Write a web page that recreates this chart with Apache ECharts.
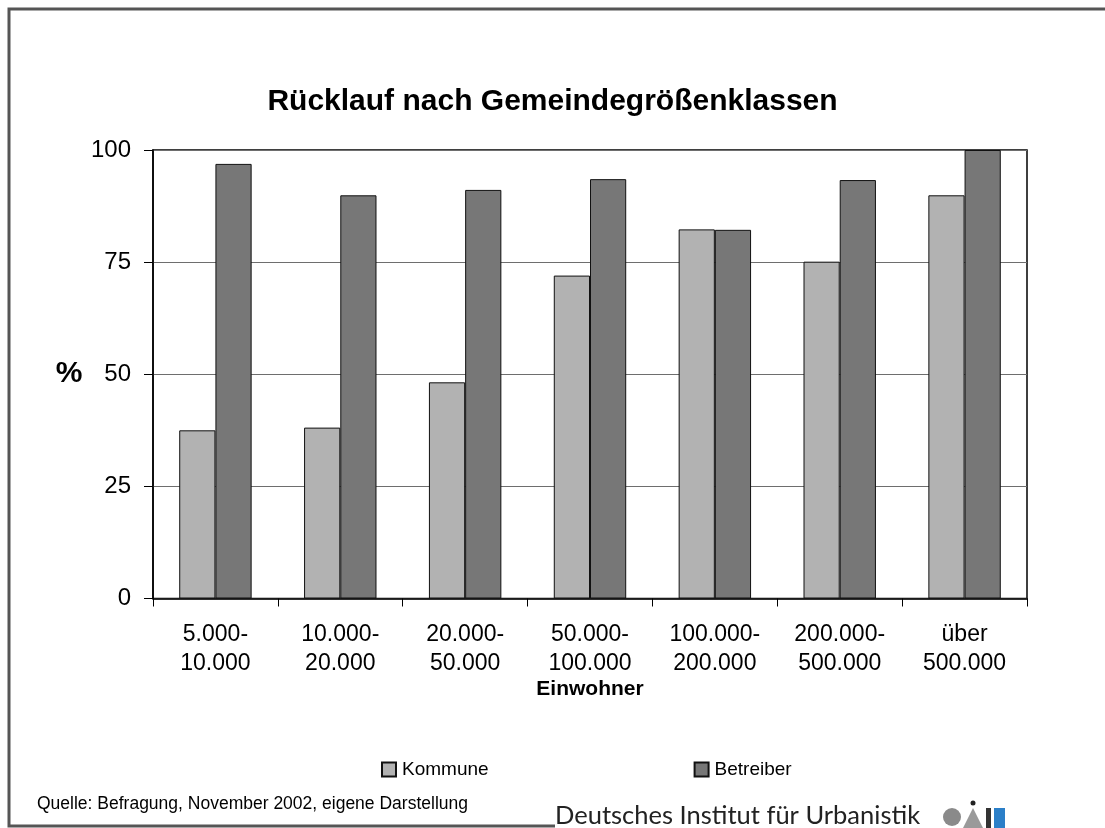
<!DOCTYPE html>
<html>
<head>
<meta charset="utf-8">
<script src="https://cdn.jsdelivr.net/npm/echarts@6/dist/echarts.min.js"></script>
<style>
  html, body { margin: 0; padding: 0; background: #fff; }
  #main { width: 1105px; height: 828px; }
</style>
</head>
<body>
<div id="main"></div>
<script>
// Gemeindegrößenklassen (Einwohner)
var categories = ['5.000-\n10.000', '10.000-\n20.000', '20.000-\n50.000', '50.000-\n100.000',
                  '100.000-\n200.000', '200.000-\n500.000', 'über\n500.000'];
// Rücklauf in %
var kommune   = [37.5, 38.1, 48.2, 72.0, 82.3, 75.1, 89.9];
var betreiber = [96.9, 89.9, 91.1, 93.5, 82.2, 93.3, 100];
var seriesNames = ['Kommune', 'Betreiber'];

var fontMain = 'Liberation Sans, Arial, sans-serif';

var myChart = echarts.init(document.getElementById('main'));
myChart.setOption({
    backgroundColor: '#fff',
    animation: false,
    title: {
        text: 'Rücklauf nach Gemeindegrößenklassen',
        left: 'center',
        top: 82,
        textStyle: { fontFamily: fontMain, fontSize: 30, fontWeight: 'bold', color: '#000' }
    },
    legend: {
        left: 376,
        top: 755,
        itemWidth: 14,
        itemHeight: 14,
        itemGap: 205,
        icon: 'rect',
        data: seriesNames,
        textStyle: { fontFamily: fontMain, fontSize: 19, color: '#000', padding: [0, 0, 0, 1] }
    },
    grid: {
        left: 153, right: 78, top: 150, bottom: 229.5,
        show: true,
        borderColor: '#000',
        borderWidth: 1.5,
        backgroundColor: '#fff'
    },
    xAxis: {
        type: 'category',
        data: categories,
        name: 'Einwohner',
        nameLocation: 'middle',
        nameGap: 80.5,
        nameMoveOverlap: false,
        nameTextStyle: { fontFamily: fontMain, fontSize: 21, fontWeight: 'bold', color: '#000' },
        axisLine: { lineStyle: { color: '#000', width: 1.5 } },
        axisTick: { show: true, length: 8, lineStyle: { color: '#000' } },
        axisLabel: {
            margin: 22,
            fontFamily: fontMain, fontSize: 23, color: '#000',
            lineHeight: 29
        },
        splitLine: { show: false }
    },
    yAxis: {
        type: 'value',
        min: 0, max: 100, interval: 25,
        axisLine: { show: true, lineStyle: { color: '#000', width: 1.5 } },
        axisTick: { show: true, length: 9, lineStyle: { color: '#000' } },
        axisLabel: { margin: 22, fontFamily: fontMain, fontSize: 24, color: '#000' },
        splitLine: { show: true, lineStyle: { color: '#6e6e6e', width: 1 } }
    },
    series: [
        {
            name: seriesNames[0],
            type: 'bar',
            data: kommune,
            barGap: '0%',
            barCategoryGap: '42%',
            itemStyle: { color: '#b2b2b2', borderColor: '#111', borderWidth: 1 }
        },
        {
            name: seriesNames[1],
            type: 'bar',
            data: betreiber,
            barGap: '0%',
            barCategoryGap: '42%',
            itemStyle: { color: '#777777', borderColor: '#111', borderWidth: 1 }
        }
    ],
    graphic: [
        // frame around the slide
        { type: 'polyline', shape: { points: [[555, 826], [9, 826], [9, 9], [1105, 9]] },
          style: { stroke: '#555', lineWidth: 3, fill: null }, silent: true },
        { type: 'text', x: 69, y: 374,
          style: { text: '%', font: 'bold 30px ' + fontMain, fill: '#000', textAlign: 'center', textVerticalAlign: 'middle' } },
        { type: 'text', x: 37, y: 804,
          style: { text: 'Quelle: Befragung, November 2002, eigene Darstellung', font: '17.5px ' + fontMain, fill: '#000', textVerticalAlign: 'middle' } },
        { type: 'text', x: 555, y: 816,
          style: { text: 'Deutsches Institut für Urbanistik', font: '25.5px Lato, "DejaVu Sans", sans-serif', fill: '#222', textVerticalAlign: 'middle' } },
        // difu logo (rough)
        { type: 'circle', shape: { cx: 952, cy: 817, r: 9 }, style: { fill: '#8a8a8a' } },
        { type: 'polygon', shape: { points: [[963, 828], [973, 808], [983, 828]] }, style: { fill: '#9a9a9a' } },
        { type: 'circle', shape: { cx: 973, cy: 803, r: 2.5 }, style: { fill: '#222' } },
        { type: 'rect', shape: { x: 986, y: 808, width: 5, height: 20 }, style: { fill: '#333' } },
        { type: 'rect', shape: { x: 994, y: 808, width: 11, height: 20 }, style: { fill: '#2b7fc8' } }
    ]
});
</script>
</body>
</html>
